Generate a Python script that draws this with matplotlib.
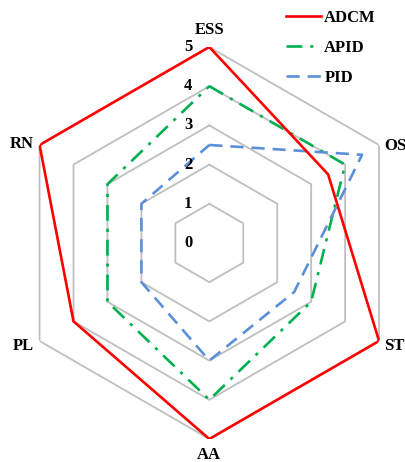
import numpy as np
import matplotlib
matplotlib.use("Agg")
import matplotlib.pyplot as plt

plt.rcParams['font.family'] = ['Liberation Serif', 'DejaVu Serif']
plt.rcParams['font.weight'] = 'bold'

# axes, clockwise from the top
categories = ['ESS', 'OS', 'ST', 'AA', 'PL', 'RN']
adcm = [5, 3.5, 5, 5, 4, 5]
apid = [4, 4, 3, 4, 3, 3]
pid = [2.5, 4.5, 2.5, 3, 2, 2]
ring_levels = [1, 2, 3, 4, 5]
tick_labels = ['0', '1', '2', '3', '4', '5']

n = len(categories)
angles = np.linspace(0, 2 * np.pi, n, endpoint=False)
angles_closed = np.append(angles, angles[0])


def closed(vals):
    return list(vals) + [vals[0]]


fig = plt.figure(figsize=(4.05, 4.62), dpi=100)
ax = fig.add_axes([0.0328, 0.0498, 0.968, 0.8485], polar=True)
ax.set_theta_offset(np.pi / 2)
ax.set_theta_direction(-1)
ax.set_ylim(0, 5)
ax.grid(False)
ax.spines['polar'].set_visible(False)
ax.set_xticks([])
ax.set_yticks([])
ax.patch.set_visible(False)

# hexagon grid
for lvl in ring_levels:
    ax.plot(angles_closed, [lvl] * (n + 1), color='#bfbfbf', lw=1.3, zorder=1)

# series
ax.plot(angles_closed, closed(adcm), color='#ff0000', lw=1.9, label='ADCM', zorder=4)
ax.plot(angles_closed, closed(apid), color='#00b050', lw=1.9, label='APID',
        dashes=(6, 3, 1.2, 3), zorder=3)
ax.plot(angles_closed, closed(pid), color='#5b8fd9', lw=1.9, label='PID',
        dashes=(5, 3), zorder=3)

# radial value labels
for i, lab in enumerate(tick_labels):
    ax.annotate(lab, xy=(0, i), xytext=(-21, 0), textcoords='offset pixels',
                ha='center', va='center', fontsize=12, fontweight='bold')

# category labels
offsets = {
    'ESS': ((0, 17), 'center', 'center'),
    'OS': ((5, -1), 'left', 'center'),
    'ST': ((5, -5), 'left', 'center'),
    'AA': ((0, -16), 'center', 'center'),
    'PL': ((-6, -5), 'right', 'center'),
    'RN': ((-6, 1), 'right', 'center'),
}
for ang, cat in zip(angles, categories):
    off, ha, va = offsets[cat]
    ax.annotate(cat, xy=(ang, 5), xytext=off, textcoords='offset pixels',
                ha=ha, va=va, fontsize=12, fontweight='bold')

leg = fig.legend(loc='upper left', bbox_to_anchor=(286 / 405, 1 - 10 / 462),
                 frameon=False, fontsize=12, handlelength=2.1, handletextpad=0.2,
                 labelspacing=0.85, borderpad=0, borderaxespad=0)

fig.savefig('out.png', dpi=100, facecolor='white')
